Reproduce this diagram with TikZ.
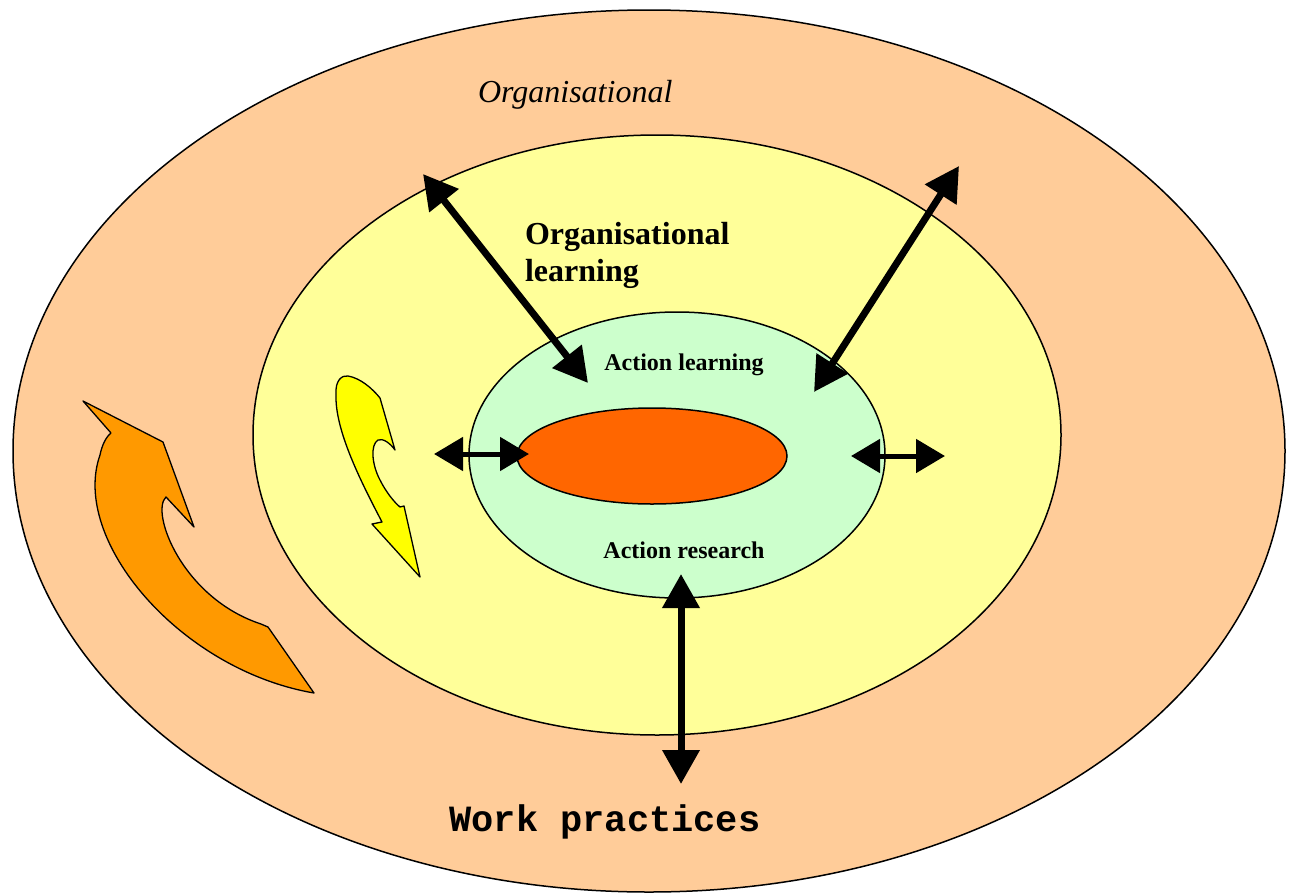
\documentclass[tikz,border=0pt]{standalone}
\usepackage{fontspec}
\setmainfont{Liberation Serif}
\setmonofont{Liberation Mono}
\usetikzlibrary{shapes.geometric,arrows.meta}

\definecolor{peach}{HTML}{FFCC99}
\definecolor{paleyellow}{HTML}{FFFF99}
\definecolor{palegreen}{HTML}{CCFFCC}
\definecolor{coreorange}{HTML}{FF6600}
\definecolor{arroworange}{HTML}{FF9900}
\definecolor{arrowyellow}{HTML}{FFFF00}

\tikzset{
  ring/.style={ellipse, draw=black, line width=1.5pt, inner sep=0pt, outer sep=0pt},
  bigarrow/.style={line width=7pt, {Triangle[length=34pt,width=36pt]}-{Triangle[length=34pt,width=36pt]}},
  smallarrow/.style={line width=5pt, {Triangle[length=29pt,width=33pt]}-{Triangle[length=29pt,width=33pt]}},
  flowshape/.style={draw=black, line width=1.3pt, line join=round},
  label/.style={inner sep=0pt, outer sep=0pt}
}

\begin{document}
\begin{tikzpicture}[x=1pt,y=-1pt]
\useasboundingbox (0,0) rectangle (1295,894);

% nested rings
\node[ring, fill=peach, minimum width=1272pt, minimum height=882pt] (org) at (649,451) {};
\node[ring, fill=paleyellow, minimum width=808pt, minimum height=600pt] (orglearn) at (657,435) {};
\node[ring, fill=palegreen, minimum width=416pt, minimum height=286pt] (actlearn) at (677,455) {};
\node[ring, fill=coreorange, minimum width=270pt, minimum height=96pt] (core) at (652,456) {};

% curved orange arrow in the outer ring
\draw[flowshape, fill=arroworange]
  (83,401) -- (163,442) -- (194,527) -- (166,497)
  .. controls (150,512) and (182,598) .. (261,624)
  -- (268,627) -- (314,693)
  .. controls (180,670) and (70,540) .. (100,455)
  .. controls (102,445) and (106,437) .. (111,433) -- cycle;

% curved yellow arrow in the learning ring
\draw[flowshape, fill=arrowyellow]
  (382,522) .. controls (360,480) and (335,430) .. (336,395)
  .. controls (335,380) and (342,375) .. (348,376)
  .. controls (360,378) and (372,388) .. (380,398)
  -- (395,450)
  .. controls (390,443) and (383,438) .. (378,440)
  .. controls (370,445) and (372,465) .. (380,480)
  .. controls (386,492) and (394,502) .. (400,507)
  -- (404,506) -- (420,577) -- (372,524) -- cycle;

% arrow end points
\coordinate (ulout) at (423,174);
\coordinate (ulin)  at (588,383);
\coordinate (urout) at (959,166);
\coordinate (urin)  at (814,392);
\coordinate (btin)  at (681,574);
\coordinate (btout) at (681,784);
\coordinate (lsout) at (434,454);
\coordinate (lsin)  at (529,454);
\coordinate (rsin)  at (851,456);
\coordinate (rsout) at (945,456);

% double-headed arrows
\draw[bigarrow] (ulout) -- (ulin);
\draw[bigarrow] (urout) -- (urin);
\draw[bigarrow] (btin) -- (btout);
\draw[smallarrow] (lsout) -- (lsin);
\draw[smallarrow] (rsin) -- (rsout);

% labels
\node[label, anchor=base west, font={\fontsize{32}{37}\selectfont\itshape}] (orgtxt) at (478,102) {Organisational};
\node[label, anchor=base west, font={\fontsize{32}{37}\selectfont\bfseries}] (oltxta) at (525,244) {Organisational};
\node[label, anchor=base west, font={\fontsize{32}{37}\selectfont\bfseries}] (oltxtb) at (525,281) {learning};
\node[label, anchor=base, font={\fontsize{24}{28}\selectfont\bfseries}] (altxt) at (684,370) {Action learning};
\node[label, anchor=base, font={\fontsize{24}{28}\selectfont\bfseries}] (artxt) at (684,558) {Action research};
\node[label, anchor=base, font={\fontsize{37}{42}\selectfont\ttfamily\bfseries}] (wptxt) at (605,831) {Work practices};
\end{tikzpicture}
\end{document}
